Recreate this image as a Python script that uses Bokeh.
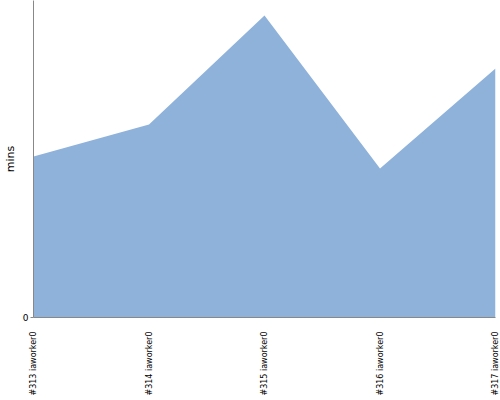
from bokeh.plotting import figure
from bokeh.models import FixedTicker, Range1d, ColumnDataSource
from bokeh.embed import file_html
from bokeh.resources import INLINE
import math

builds = ["#313 iaworker0", "#314 iaworker0", "#315 iaworker0", "#316 iaworker0", "#317 iaworker0"]
mins = [16.1, 19.3, 30.2, 14.9, 24.9]
xs = list(range(len(builds)))

src = ColumnDataSource(dict(x=xs, y=mins, zero=[0] * len(xs)))

p = figure(width=500, height=400, output_backend="svg", toolbar_location=None,
           x_range=Range1d(0, len(builds) - 1), y_range=Range1d(0, 31.7),
           min_border_left=0, min_border_right=5, min_border_top=0, min_border_bottom=83)
p.varea(x="x", y1="zero", y2="y", source=src, fill_color="#8FB2DB", fill_alpha=1.0)

p.outline_line_color = None
p.xgrid.grid_line_color = None
p.ygrid.grid_line_color = None

xa = p.xaxis[0]
xa.ticker = FixedTicker(ticks=xs)
xa.major_label_overrides = {i: b for i, b in enumerate(builds)}
xa.major_label_orientation = math.pi / 2
xa.major_tick_line_color = None
xa.major_tick_out = 0
xa.major_tick_in = 0
xa.minor_tick_line_color = None
xa.axis_line_color = "#888888"
xa.major_label_text_font = "DejaVu Sans"
xa.major_label_text_font_size = "8px"
xa.major_label_text_color = "#000000"
xa.major_label_standoff = 14

ya = p.yaxis[0]
ya.ticker = FixedTicker(ticks=[0])
ya.axis_label = "mins"
ya.axis_label_text_font = "DejaVu Sans"
ya.axis_label_text_font_size = "11px"
ya.axis_label_text_font_style = "normal"
ya.axis_label_text_color = "#000000"
ya.axis_label_standoff = 3
ya.major_label_text_font = "DejaVu Sans"
ya.major_label_text_font_size = "9px"
ya.major_label_text_color = "#000000"
ya.major_label_standoff = 2
ya.major_tick_out = 3
ya.major_tick_in = 0
ya.minor_tick_line_color = None
ya.axis_line_color = "#888888"
ya.major_tick_line_color = "#888888"

open("out.html", "w").write(file_html(p, INLINE))
